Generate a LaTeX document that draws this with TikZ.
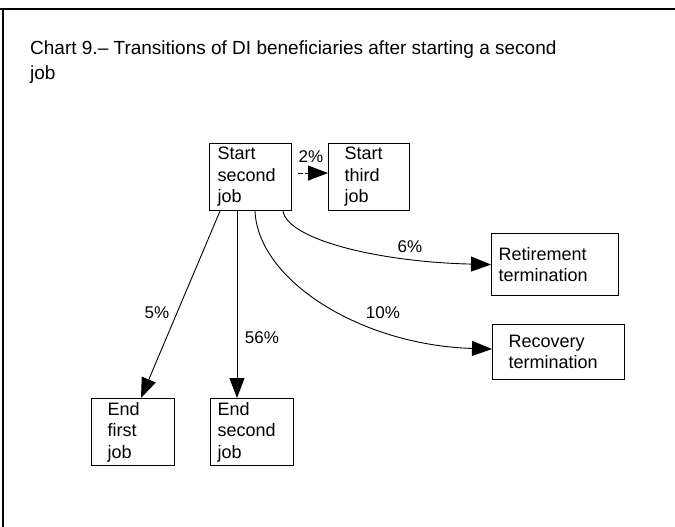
\documentclass[tikz,border=0pt]{standalone}
\usepackage{fontspec}
\setmainfont{Liberation Sans}
\usetikzlibrary{arrows.meta,calc}
\begin{document}
\begin{tikzpicture}[x=1pt,y=-1pt,
  box/.style={draw,line width=1.1pt,rectangle,anchor=north west,align=left,
    font=\fontsize{18}{21.5}\selectfont,inner ysep=0pt},
  lbl/.style={font=\fontsize{17}{20}\selectfont,inner sep=0pt},
  conn/.style={line width=0.9pt,-{Triangle[length=20pt,width=15pt]}},
]
\useasboundingbox (0,0) rectangle (675,527);
\coordinate (ftl) at (3,9);
\coordinate (ftr) at (675,9);
\coordinate (fbl) at (3,527);
\draw[line width=1.8pt] (0,9) -- (ftr);
\draw[line width=1.3pt] (ftl) -- (fbl);

\node[anchor=base west,align=left,inner sep=0pt,font=\fontsize{19}{25}\selectfont] (title) at (30,80)
  {Chart 9.-- Transitions of DI beneficiaries after starting a second\\job};

\node[box,inner xsep=8pt,text width=66pt,minimum height=67pt] (s2) at (209,143) {Start\\second\\job};
\node[box,inner xsep=16pt,text width=49pt,minimum height=67pt] (s3) at (328,143) {Start\\third\\job};
\node[box,inner xsep=7pt,text width=113pt,minimum height=62pt] (ret) at (491,233) {Retirement\\termination};
\node[box,inner xsep=16pt,text width=100pt,minimum height=55pt] (rec) at (492,324) {Recovery\\termination};
\node[box,inner xsep=16pt,text width=51pt,minimum height=67pt] (e1) at (91,398) {End\\first\\job};
\node[box,inner xsep=7pt,text width=69pt,minimum height=67pt] (e2) at (210,398) {End\\second\\job};

\draw[conn,dash pattern=on 5pt off 2pt] ($(s2.east)+(6,-4)$) -- ($(s3.west)+(0,-4)$);
\draw[conn] ($(s2.south west)+(11,0)$) -- ($(e1.north west)+(50,0)$);
\draw[conn] ($(s2.south west)+(28,0)$) -- ($(e2.north west)+(27,0)$);
\draw[conn] ($(s2.south west)+(74,0)$) .. controls (288,240) and (380,262) .. (ret.west);
\draw[conn] ($(s2.south west)+(46,0)$) .. controls (258,280) and (360,345) .. ($(rec.west)+(0,-3)$);

\node[lbl] (p2) at (311,157) {2\%};
\node[lbl] (p6) at (410,247) {6\%};
\node[lbl] (p10) at (383,313) {10\%};
\node[lbl] (p56) at (262,338) {56\%};
\node[lbl] (p5) at (157,313) {5\%};
\end{tikzpicture}
\end{document}
